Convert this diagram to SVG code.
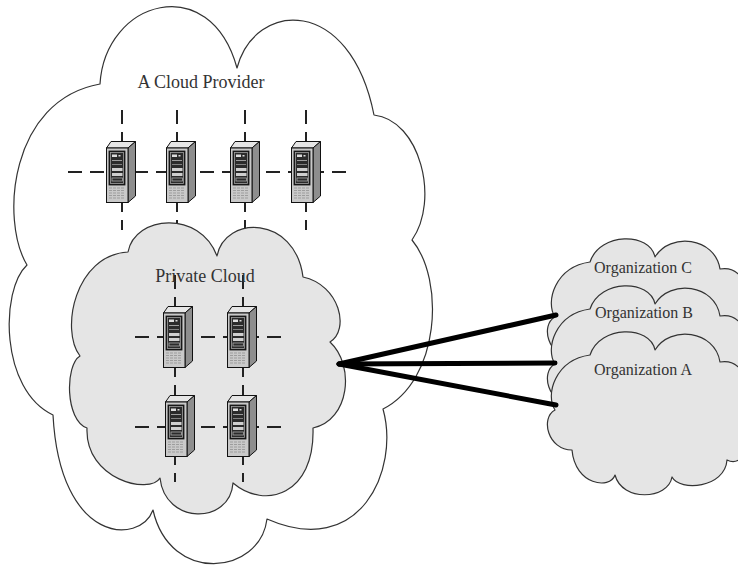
<svg xmlns="http://www.w3.org/2000/svg" xmlns:xlink="http://www.w3.org/1999/xlink" width="738" height="569" viewBox="0 0 738 569">
<style>
.cloud{stroke:#333;stroke-width:1.2;stroke-linejoin:round}
.outer{fill:#fff}
.gray{fill:#e5e5e5}
.dash{stroke:#222;stroke-width:2;stroke-dasharray:14 8;fill:none}
.lbl{font-family:"Liberation Serif","Times New Roman",serif;fill:#333;text-anchor:middle}
.big{font-size:18px}
.org{font-size:16px}
.conn{stroke:#000;stroke-width:5;stroke-linecap:round;fill:none}
</style>
<defs>
<g id="srv">
<polygon points="0.5,7 5,0.5 29.5,0.5 22,7" fill="#e6e6e6" stroke="#111" stroke-width="1"/>
<polygon points="22,7 29.5,0.5 29.5,55 22,61.5" fill="#8e8e8e" stroke="#111" stroke-width="1"/>
<rect x="0.5" y="7" width="21.5" height="54.5" fill="#c9c9c9" stroke="#111" stroke-width="1"/>
<rect x="3" y="10" width="16" height="34" fill="#1e1e1e" stroke="#111" stroke-width="0.8"/>
<rect x="4.5" y="11.5" width="13" height="31" fill="#2b2b2b" stroke="#a0a0a0" stroke-width="0.8"/>
<rect x="6" y="13.5" width="5" height="2.5" fill="#ddd"/>
<rect x="12.5" y="14" width="2" height="1.5" fill="#ddd"/>
<line x1="6" y1="19.5" x2="16" y2="19.5" stroke="#bbb" stroke-width="0.8"/>
<line x1="6" y1="23.5" x2="16" y2="23.5" stroke="#999" stroke-width="0.8"/>
<rect x="6" y="27" width="10.5" height="3" fill="#cfcfcf"/>
<rect x="6" y="32" width="10.5" height="3" fill="#cfcfcf"/>
<rect x="6" y="37" width="10.5" height="3" fill="none" stroke="#aaa" stroke-width="0.8"/>
<g stroke="#8a8a8a" stroke-width="0.7" stroke-dasharray="3 1">
<line x1="3" y1="47" x2="19" y2="47"/>
<line x1="3" y1="49.5" x2="19" y2="49.5"/>
<line x1="3" y1="52" x2="19" y2="52"/>
<line x1="3" y1="54.5" x2="19" y2="54.5"/>
<line x1="3" y1="57" x2="19" y2="57"/>
</g>
</g>
<path id="orgShape" d="M590,355 C600,325 650,325 655,350 C670,325 715,330 720,362 C742,358 752,385 748,402 C758,432 746,470 727,460 C725,488 680,492 672,477 C668,500 622,502 615,475 C610,490 575,485 572,450 C548,450 540,418 555,410 C545,395 555,360 590,355 Z"/>
</defs>

<g id="cloud-provider">
<path class="cloud outer" d="M100,84 C105,0 210,-30 237,68 C255,0 350,-5 374,115 C420,120 440,200 412,240 C445,280 440,380 383,409 C400,470 360,560 267,519 C260,575 170,585 153,510 C140,545 60,545 53,415 C0,390 0,290 27,265 C0,220 10,100 100,84 Z"/>
<text class="lbl big" x="201" y="88">A Cloud Provider</text>
<g id="provider-network">
<line class="dash" x1="68" y1="172" x2="349" y2="172"/>
<line class="dash" x1="122" y1="110" x2="122" y2="230"/>
<line class="dash" x1="177" y1="110" x2="177" y2="230"/>
<line class="dash" x1="245" y1="110" x2="245" y2="230"/>
<line class="dash" x1="306" y1="110" x2="306" y2="230"/>
</g>
<g id="server-p1"><use href="#srv" x="106" y="141"/></g>
<g id="server-p2"><use href="#srv" x="166" y="141"/></g>
<g id="server-p3"><use href="#srv" x="230" y="141"/></g>
<g id="server-p4"><use href="#srv" x="291" y="141"/></g>
</g>

<g id="private-cloud">
<path class="cloud gray" d="M128,252 C135,215 200,210 217,256 C225,215 295,215 303,277 C340,285 350,330 330,342 C355,365 350,420 313,428 C315,495 265,510 233,483 C230,525 165,525 160,478 C150,495 85,480 87,428 C65,420 65,365 80,356 C60,330 75,255 128,252 Z"/>
<g id="private-network">
<line class="dash" x1="175" y1="275" x2="175" y2="482"/>
<line class="dash" x1="243" y1="275" x2="243" y2="482"/>
<line class="dash" x1="135" y1="337" x2="282" y2="337"/>
<line class="dash" x1="135" y1="427" x2="282" y2="427"/>
</g>
<text class="lbl big" x="205" y="282">Private Cloud</text>
<g id="server-c1"><use href="#srv" x="163" y="306"/></g>
<g id="server-c2"><use href="#srv" x="227" y="306"/></g>
<g id="server-c3"><use href="#srv" x="165" y="395"/></g>
<g id="server-c4"><use href="#srv" x="227" y="395"/></g>
</g>

<g id="org-c">
<use href="#orgShape" class="cloud gray" transform="translate(0,-93)"/>
<text class="lbl org" x="643" y="273">Organization C</text>
</g>
<g id="org-b">
<use href="#orgShape" class="cloud gray" transform="translate(0,-46)"/>
<text class="lbl org" x="644" y="318">Organization B</text>
</g>
<g id="org-a">
<use href="#orgShape" class="cloud gray"/>
<text class="lbl org" x="643" y="375">Organization A</text>
</g>

<g id="connectors">
<line class="conn" x1="339" y1="364" x2="556" y2="315"/>
<line class="conn" x1="339" y1="364" x2="555" y2="363"/>
<line class="conn" x1="339" y1="364" x2="556" y2="405"/>
</g>
</svg>
